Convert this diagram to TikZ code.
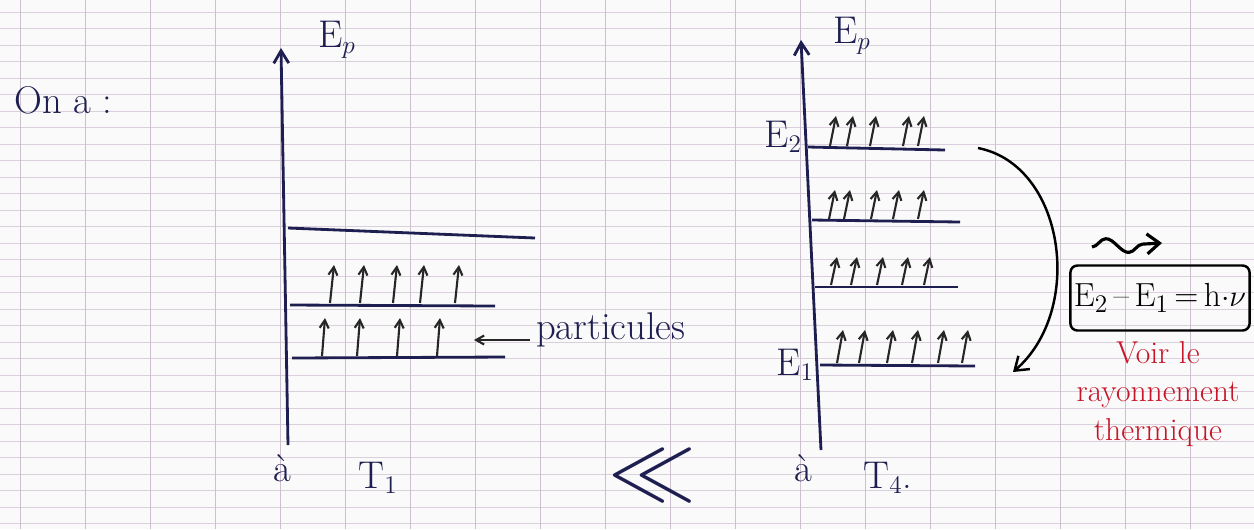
\documentclass[tikz,border=0pt]{standalone}
\usepackage{amsmath,amssymb}
\usetikzlibrary{arrows.meta, positioning, decorations.pathmorphing}
\usepackage{xcolor}

\definecolor{ink}{RGB}{30,30,80}
\definecolor{redink}{RGB}{200,20,40}
\definecolor{paperline}{RGB}{170,150,175}

\begin{document}
\begin{tikzpicture}[x=0.02cm, y=-0.02cm,
  axis/.style={draw=ink, line width=1.6pt, -{Straight Barb[length=2.5mm, width=3mm]}},
  level/.style={draw=ink, line width=1.6pt},
  spin/.style={draw=black!85, line width=1.2pt, -{Straight Barb[length=1.6mm, width=1.8mm]}},
  hand/.style={text=ink, font=\fontsize{22}{26}\selectfont},
  redhand/.style={text=redink, font=\fontsize{18}{22}\selectfont, align=center},
  jump/.style={draw=black, line width=1.4pt, -{Straight Barb[length=2.5mm, width=3.5mm]}},
]
\useasboundingbox (0,0) rectangle (1254,529);
\fill[black!2] (0,0) rectangle (1254,529);

% squared paper
\foreach \y in {12,28.5,...,529} \draw[paperline!45, line width=0.4pt] (0,\y) -- (1254,\y);
\foreach \x in {20,85,...,1254} \draw[paperline!60, line width=0.5pt] (\x,0) -- (\x,529);

\node[hand, anchor=west] (ona) at (8,100) {On a :};

% left diagram, at T1
\coordinate (axA bottom) at (288,445);
\coordinate (axA top) at (281,48);
\draw[axis] (axA bottom) -- (axA top);
\node[hand] (epA) at (337,40) {E$_p$};

\coordinate (lvA3 left) at (288,228);
\coordinate (lvA3 right) at (535,238);
\coordinate (lvA2 left) at (290,305);
\coordinate (lvA2 right) at (495,306);
\coordinate (lvA1 left) at (292,358);
\coordinate (lvA1 right) at (505,357);
\draw[level] (lvA3 left) -- (lvA3 right);
\draw[level] (lvA2 left) -- (lvA2 right);
\draw[level] (lvA1 left) -- (lvA1 right);

\foreach \x in {330,360,393,420,455} \draw[spin] (\x,303) -- (\x+4,265);
\foreach \x in {322,357,397,437} \draw[spin] (\x,356) -- (\x+3,318);

\node[hand, anchor=west] (part) at (530,330) {particules};
\coordinate (parttip) at (474,340);
\draw[spin] (part.west |- parttip) -- (parttip);

\node[hand] (atA) at (282,468) {à};
\node[hand] (tA) at (378,478) {T$_1$};

\node[text=ink] (less) at (652,476) {\scalebox{5}{$\ll$}};

% right diagram, at T4
\coordinate (axB bottom) at (821,450);
\coordinate (axB top) at (801,40);
\draw[axis] (axB bottom) -- (axB top);
\node[hand] (epB) at (852,36) {E$_p$};

\coordinate (lvB4 left) at (808,147);
\coordinate (lvB4 right) at (945,150);
\coordinate (lvB3 left) at (812,220);
\coordinate (lvB3 right) at (960,222);
\coordinate (lvB2 left) at (815,287);
\coordinate (lvB2 right) at (958,287);
\coordinate (lvB1 left) at (820,365);
\coordinate (lvB1 right) at (975,366);
\draw[level] (lvB4 left) -- (lvB4 right);
\draw[level] (lvB3 left) -- (lvB3 right);
\draw[level] (lvB2 left) -- (lvB2 right);
\draw[level] (lvB1 left) -- (lvB1 right);

\node[hand, anchor=east] (e2) at ([yshift=0.2cm]lvB4 left) {E$_2$};
\node[hand, anchor=east] (e1) at (lvB1 left) {E$_1$};

\foreach \x in {830,847,870,903,918} \draw[spin] (\x,146) -- (\x+6,116);
\foreach \x in {829,844,871,893,918} \draw[spin] (\x,219) -- (\x+6,190);
\foreach \x in {831,851,877,902,924} \draw[spin] (\x,285) -- (\x+6,257);
\foreach \x in {837,859,887,912,938,962} \draw[spin] (\x,363) -- (\x+6,330);

\node[hand] (atB) at (803,468) {à};
\node[hand] (tB) at (888,478) {T$_4$.};

% emission
\coordinate (jump start) at (978,148);
\coordinate (jump end) at (1013,372);
\draw[jump] (jump start) .. controls (1065,165) and (1085,310) .. (jump end);

\node[draw=black, line width=1.4pt, rounded corners=4pt, minimum width=3.56cm, minimum height=1.3cm,
  text=black, font=\fontsize{19}{22}\selectfont, inner sep=2pt] (gap) at (1160,298) {E$_2$\,--\,E$_1$\,=\,h$\cdot\nu$};
\coordinate (photon start) at (1092,247);
\coordinate (photon end) at (1162,243);
\draw[black, line width=1.8pt, decorate, decoration={snake, amplitude=1.5mm, segment length=9mm, post length=3mm},
  -{Straight Barb[length=2.5mm, width=4mm]}] (photon start) -- (photon end);

\node[redhand, anchor=north] (voir) at (1158,335) {Voir le\\rayonnement\\thermique};
\end{tikzpicture}
\end{document}
